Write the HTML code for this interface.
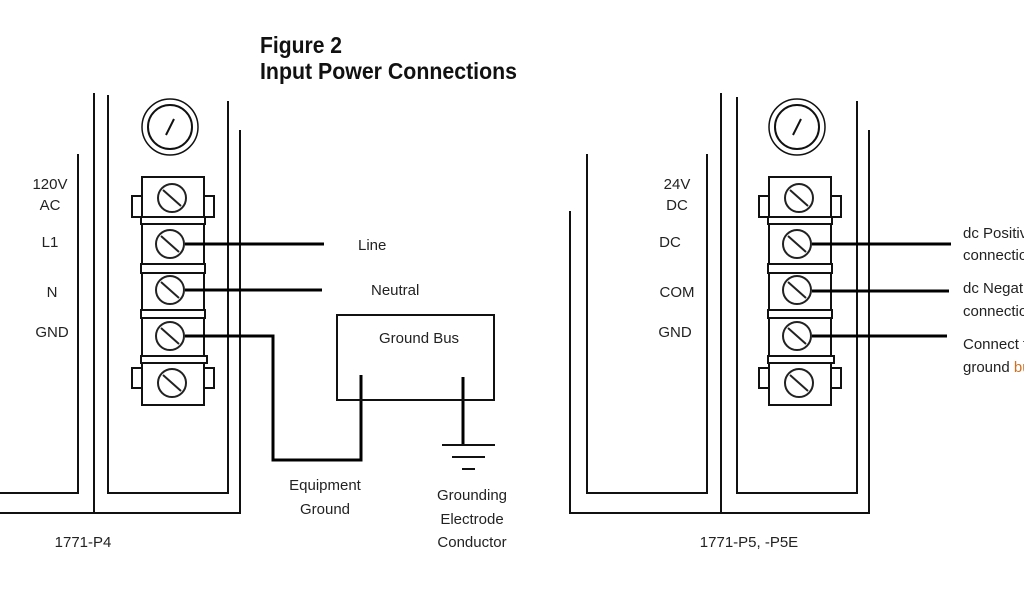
<!DOCTYPE html>
<html><head><meta charset="utf-8"><style>
html,body{margin:0;padding:0;background:#fff;overflow:hidden;width:1024px;height:600px}
svg{display:block}
text{font-family:"Liberation Sans",Arial,sans-serif;fill:#222;font-size:15px}
.t{font-weight:bold;font-size:23px;fill:#111}
</style></head><body>
<svg width="1024" height="600" viewBox="0 0 1024 600" xmlns="http://www.w3.org/2000/svg">
<defs>
<g id="screw"><circle r="14" fill="none" stroke="#222" stroke-width="2"/><line x1="-9" y1="-8" x2="9" y2="8" stroke="#222" stroke-width="2"/></g>
<g id="block" fill="#fff" stroke="#111" stroke-width="2">
<rect x="142" y="177" width="62" height="40"/>
<rect x="132" y="196" width="10" height="21"/>
<rect x="204" y="196" width="10" height="21"/>
<rect x="141" y="217" width="64" height="7"/>
<rect x="142" y="224" width="62" height="40"/>
<rect x="141" y="264" width="64" height="9"/>
<rect x="142" y="273" width="62" height="37"/>
<rect x="141" y="310" width="64" height="8"/>
<rect x="142" y="318" width="62" height="38"/>
<rect x="141" y="356" width="66" height="7"/>
<rect x="142" y="363" width="62" height="42"/>
<rect x="132" y="368" width="10" height="20"/>
<rect x="204" y="368" width="10" height="20"/>
<use href="#screw" x="172" y="198"/>
<use href="#screw" x="170" y="244"/>
<use href="#screw" x="170" y="290"/>
<use href="#screw" x="170" y="336"/>
<use href="#screw" x="172" y="383"/>
<circle cx="170" cy="127" r="28" fill="none" stroke-width="1.5"/>
<circle cx="170" cy="127" r="22" fill="none" stroke-width="2"/>
<line x1="166" y1="135" x2="174" y2="119"/>
</g>
</defs>

<text class="t" x="260" y="53" textLength="82" lengthAdjust="spacingAndGlyphs">Figure 2</text>
<text class="t" x="260" y="79" textLength="257" lengthAdjust="spacingAndGlyphs">Input Power Connections</text>

<g stroke="#111" stroke-width="2" fill="none">
<polyline points="0,493 78,493 78,154"/>
<polyline points="94,93 94,513"/>
<polyline points="0,513 240,513 240,130"/>
<polyline points="108,95 108,493 228,493 228,101"/>
</g>
<use href="#block"/>
<g stroke="#000" stroke-width="3" fill="none">
<line x1="185" y1="244" x2="324" y2="244"/>
<line x1="185" y1="290" x2="322" y2="290"/>
<polyline points="185,336 273,336 273,460 361,460 361,375"/>
<line x1="463" y1="377" x2="463" y2="445"/>
</g>
<g stroke="#111" stroke-width="2">
<rect x="337" y="315" width="157" height="85" fill="none"/>
<line x1="442" y1="445" x2="495" y2="445"/>
<line x1="452" y1="457" x2="485" y2="457"/>
<line x1="462" y1="469" x2="475" y2="469"/>
</g>
<g text-anchor="middle">
<text x="50" y="189">120V</text>
<text x="50" y="210">AC</text>
<text x="50" y="247">L1</text>
<text x="52" y="297">N</text>
<text x="52" y="337">GND</text>
<text x="325" y="490">Equipment</text>
<text x="325" y="514">Ground</text>
<text x="472" y="500">Grounding</text>
<text x="472" y="524">Electrode</text>
<text x="472" y="547">Conductor</text>
<text x="83" y="547">1771-P4</text>
<text x="677" y="189">24V</text>
<text x="677" y="210">DC</text>
<text x="670" y="247">DC</text>
<text x="677" y="297">COM</text>
<text x="675" y="337">GND</text>
<text x="749" y="547">1771-P5, -P5E</text>
</g>
<text x="358" y="250">Line</text>
<text x="371" y="295">Neutral</text>
<text x="379" y="343">Ground Bus</text>

<g stroke="#111" stroke-width="2" fill="none">
<polyline points="570,211 570,513 869,513 869,130"/>
<polyline points="587,154 587,493 707,493 707,154"/>
<polyline points="721,93 721,513"/>
<polyline points="737,97 737,493 857,493 857,101"/>
</g>
<use href="#block" x="627"/>
<g stroke="#000" stroke-width="3">
<line x1="812" y1="244" x2="951" y2="244"/>
<line x1="812" y1="291" x2="949" y2="291"/>
<line x1="812" y1="336" x2="947" y2="336"/>
</g>
<g font-size="16">
<text x="963" y="238" font-size="16">dc Positive</text>
<text x="963" y="260" font-size="16">connection</text>
<text x="963" y="293" font-size="16">dc Negative</text>
<text x="963" y="316" font-size="16">connection</text>
<text x="963" y="349" font-size="16">Connect to</text>
<text x="963" y="372" font-size="16">ground <tspan fill="#d07020">bus</tspan></text>
</g>
</svg>
</body></html>
